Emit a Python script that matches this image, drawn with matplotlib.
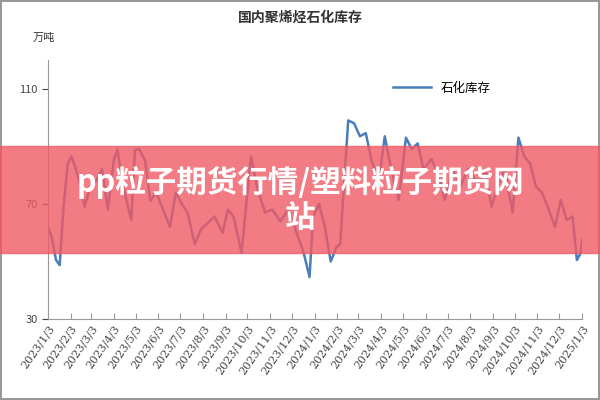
import matplotlib
matplotlib.use("Agg")
import matplotlib.pyplot as plt
import numpy as np
from datetime import date, timedelta

plt.rcParams['font.family'] = ['Noto Sans CJK SC', 'DejaVu Sans']

title = "国内聚烯烃石化库存"
unit = "万吨"
series_name = "石化库存"
days = [0,5,11,16,21,27,32,37,45,50,58,66,74,82,90,95,103,114,119,125,133,140,148,156,167,175,183,191,201,209,217,228,239,246,254,265,276,278,286,297,307,318,329,339,350,358,363,371,379,387,395,400,405,411,419,427,435,443,453,461,469,480,490,498,506,514,525,535,543,554,564,575,588,599,607,617,625,636,644,652,660,668,676,684,694,702,710,718,724,729,731]
values = [62,58.6,50.5,48.7,68,84,86.5,83,76,69,76,78,82,68,85,89,76,64.4,88.8,89,85,71,74,69,62,74,70,67,56,61,63,65.6,60,68,65.6,53,82,86.5,76,67,68,64,68,61,53,44.6,65.6,70,62,50,55,56,76,99,98,93.5,94.6,85,78,93.5,83,71.4,93,89,91,82,85.6,79.5,71.4,82,76,82,77,82,69,77,82,67,93,86.5,84,76,74,69,62,71.4,64.4,65.6,50.5,52.8,57.4]
start = date(2023, 1, 3)
tick_dates = [date(2023 + (m // 12), m % 12 + 1, 3) for m in range(25)]
tick_labels = [f"{d.year}/{d.month}/{d.day}" for d in tick_dates]

dates = [start + timedelta(days=d) for d in days]

fig = plt.figure(figsize=(6, 4), dpi=100)
fig.patch.set_edgecolor('#999999')
fig.patch.set_linewidth(1.5)
ax = fig.add_axes([0.08, 0.2025, 0.89, 0.6475])
ax.plot(dates, values, color='#4a7ebb', lw=1.8, label=series_name)
ax.set_ylim(30, 120)
ax.set_yticks([30, 70, 110])
ax.set_xlim(start, date(2025, 1, 3))
ax.set_xticks(tick_dates)
ax.set_xticklabels(tick_labels, rotation=55, ha='right', rotation_mode='anchor', fontsize=8, color='#444444', family=['DejaVu Serif'])
ax.tick_params(axis='y', labelsize=8, colors='#444444', length=4)
ax.tick_params(axis='x', length=4, color='#999999', direction='in')
for s in ['top', 'right']:
    ax.spines[s].set_visible(False)
for s in ['left', 'bottom']:
    ax.spines[s].set_color('#999999')
ax.legend(loc='upper right', bbox_to_anchor=(0.85, 0.96), frameon=False, fontsize=9, handlelength=3)
fig.text(0.5, 0.955, title, ha='center', va='center', fontsize=10, fontweight='bold', color='#333333')
fig.text(0.055, 0.905, unit, ha='left', va='center', fontsize=8, color='#333333')

# watermark banner
fig.patches.append(plt.Rectangle((0, 0.368), 1, 0.267, transform=fig.transFigure, color='#f05a64', alpha=0.8, zorder=10))
fig.text(0.5, 0.5, "pp粒子期货行情/塑料粒子期货网\n站", ha='center', va='center', fontsize=22, fontweight='bold', color='white', zorder=11, linespacing=1.15)

fig.savefig("out.png", dpi=100)
